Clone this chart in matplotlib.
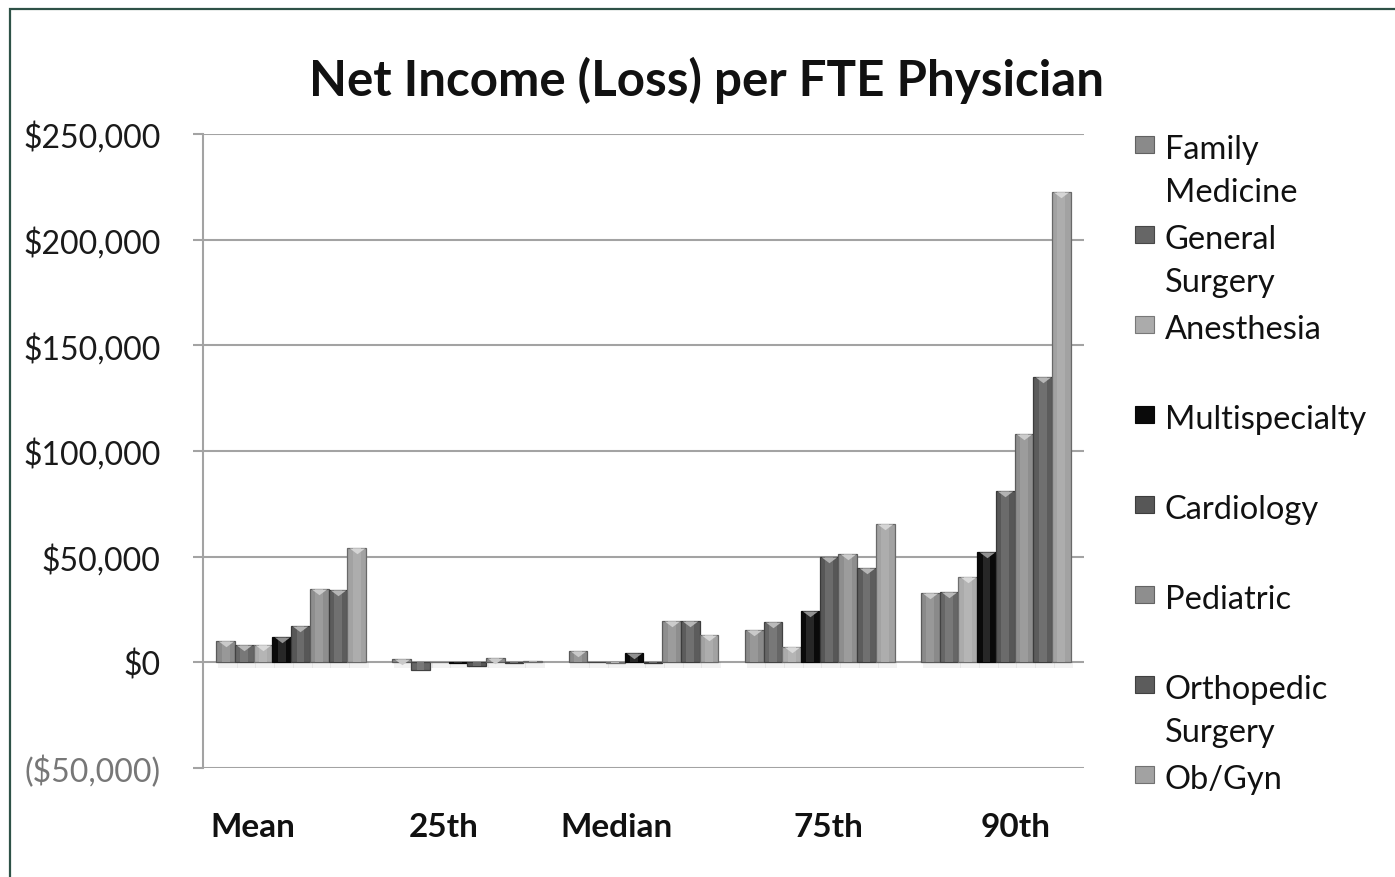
import numpy as np
import matplotlib
matplotlib.use("Agg")
import matplotlib.pyplot as plt
from matplotlib.patches import Rectangle
from matplotlib.path import Path
from matplotlib.colors import to_rgb
from matplotlib.ticker import FuncFormatter
from matplotlib.transforms import ScaledTranslation

# ---- data -------------------------------------------------------------
categories = ["Mean", "25th", "Median", "75th", "90th"]
series_names = ["Family\nMedicine", "General\nSurgery", "Anesthesia",
                "Multispecialty", "Cardiology", "Pediatric",
                "Orthopedic\nSurgery", "Ob/Gyn"]

family_medicine = [10000, 1700, 5200, 15400, 32600]
general_surgery = [8000, -3500, 0, 19200, 33400]
anesthesia = [8000, 0, -300, 7100, 40200]
multispecialty = [12200, -500, 4500, 24100, 52000]
cardiology = [17200, -1900, -200, 49800, 81300]
pediatric = [34900, 1900, 19700, 51400, 108000]
orthopedic_surgery = [34200, -300, 19700, 44500, 135200]
ob_gyn = [54300, 800, 12800, 65500, 222400]

y_ticks = [-50000, 0, 50000, 100000, 150000, 200000, 250000]

series_values = [family_medicine, general_surgery, anesthesia, multispecialty,
                 cardiology, pediatric, orthopedic_surgery, ob_gyn]
series_colors = ["#8a8a8a", "#666666", "#ababab", "#0a0a0a",
                 "#575757", "#8e8e8e", "#5c5c5c", "#a2a2a2"]

# ---- styling helpers ----------------------------------------------------
def mix(c, other, t):
    a = np.array(to_rgb(c))
    b = np.array(to_rgb(other))
    return tuple(a * (1 - t) + b * t)

FONT = ["Lato", "DejaVu Sans"]
plt.rcParams["font.family"] = FONT

GRID = "#a3a3a3"
DPI = 100

fig = plt.figure(figsize=(13.95, 8.78), dpi=DPI)
fig.patch.set_facecolor("white")

# thin dark-green frame running along the top and left edge
fig.add_artist(Rectangle((10 / 1395, -0.5), 2.0, 1.5 - 10 / 878,
                         transform=fig.transFigure, fill=False,
                         edgecolor="#2e5247", linewidth=1.6, clip_on=False))

ax = fig.add_axes([203 / 1395, 1 - 769 / 878, (1084 - 203) / 1395,
                   (769 - 135) / 878])

x = np.arange(len(categories))
n = len(series_values)
group_w = 0.85
w = group_w / n

# custom downward triangle whose top edge sits on the anchor point
tri = Path([(-1, 0), (1, 0), (0, -0.75), (-1, 0)],
           [Path.MOVETO, Path.LINETO, Path.LINETO, Path.CLOSEPOLY])

for i, (vals, col) in enumerate(zip(series_values, series_colors)):
    xs = x + (i - (n - 1) / 2) * w
    vals = np.array(vals, dtype=float)
    # soft drop shadow beneath each bar
    ax.bar(xs + w * 0.12, -np.full_like(vals, 2600), w * 1.05, bottom=0,
           color="#000000", alpha=0.05, linewidth=0, zorder=1)
    ax.bar(xs, vals, w, color=col, edgecolor=mix(col, "black", 0.35),
           linewidth=0.9, zorder=3)
    # lighter centre band for the bevelled look
    ax.bar(xs, vals, w * 0.42, color=mix(col, "white", 0.12),
           linewidth=0, zorder=4)
    pos = vals > 1500
    ax.plot(xs[pos], vals[pos], linestyle="none", marker=tri,
            markersize=11, color=mix(col, "white", 0.55),
            markeredgewidth=0, zorder=5)

ax.set_xlim(-0.5, len(categories) - 0.5)
ax.set_ylim(-50000, 250000)
ax.set_yticks(y_ticks)


def money(v, _pos):
    if v < 0:
        return "(${:,.0f})".format(-v)
    return "${:,.0f}".format(v)


ax.yaxis.set_major_formatter(FuncFormatter(money))
ax.set_xticks(x)
ax.set_xticklabels(categories, fontsize=24, fontweight="bold",
                   family=FONT, color="#111111")
ax.tick_params(axis="x", length=0, pad=32)
ax.tick_params(axis="y", length=7.5, width=1.5, color=GRID, pad=23,
               labelsize=23, labelcolor="#1a1a1a")
for lbl, v in zip(ax.get_yticklabels(), y_ticks):
    if v < 0:
        lbl.set_color("#777777")

# category labels sit a little off the group centres
label_shift_px = [-38, -24, -27, 9, 20]
for lbl, dx in zip(ax.get_xticklabels(), label_shift_px):
    lbl.set_transform(lbl.get_transform()
                      + ScaledTranslation(dx / DPI, 0, fig.dpi_scale_trans))

ax.grid(axis="y", color=GRID, linewidth=1.5, zorder=0)
ax.set_axisbelow(True)
for s in ["top", "right", "bottom"]:
    ax.spines[s].set_visible(False)
ax.spines["left"].set_color(GRID)
ax.spines["left"].set_linewidth(1.5)

fig.text(706 / 1395, 1 - 80 / 878, "Net Income (Loss) per FTE Physician",
         ha="center", va="center", fontsize=35.5, fontweight="bold",
         color="#111111")

# ---- legend ---------------------------------------------------------------
slot_top = 137
slot_step = 90
for i, (name, col) in enumerate(zip(series_names, series_colors)):
    top_px = slot_top + i * slot_step
    fx = 1135 / 1395
    fy = 1 - (top_px + 17) / 878
    fig.add_artist(Rectangle((fx, fy), 19 / 1395, 17 / 878,
                             transform=fig.transFigure,
                             facecolor=col,
                             edgecolor=mix(col, "black", 0.3),
                             linewidth=0.8))
    fig.text(1165 / 1395, 1 - (top_px - 2) / 878, name, ha="left", va="top",
             fontsize=23.5, color="#111111", linespacing=1.55)

fig.savefig("out.png", dpi=DPI, facecolor="white")
